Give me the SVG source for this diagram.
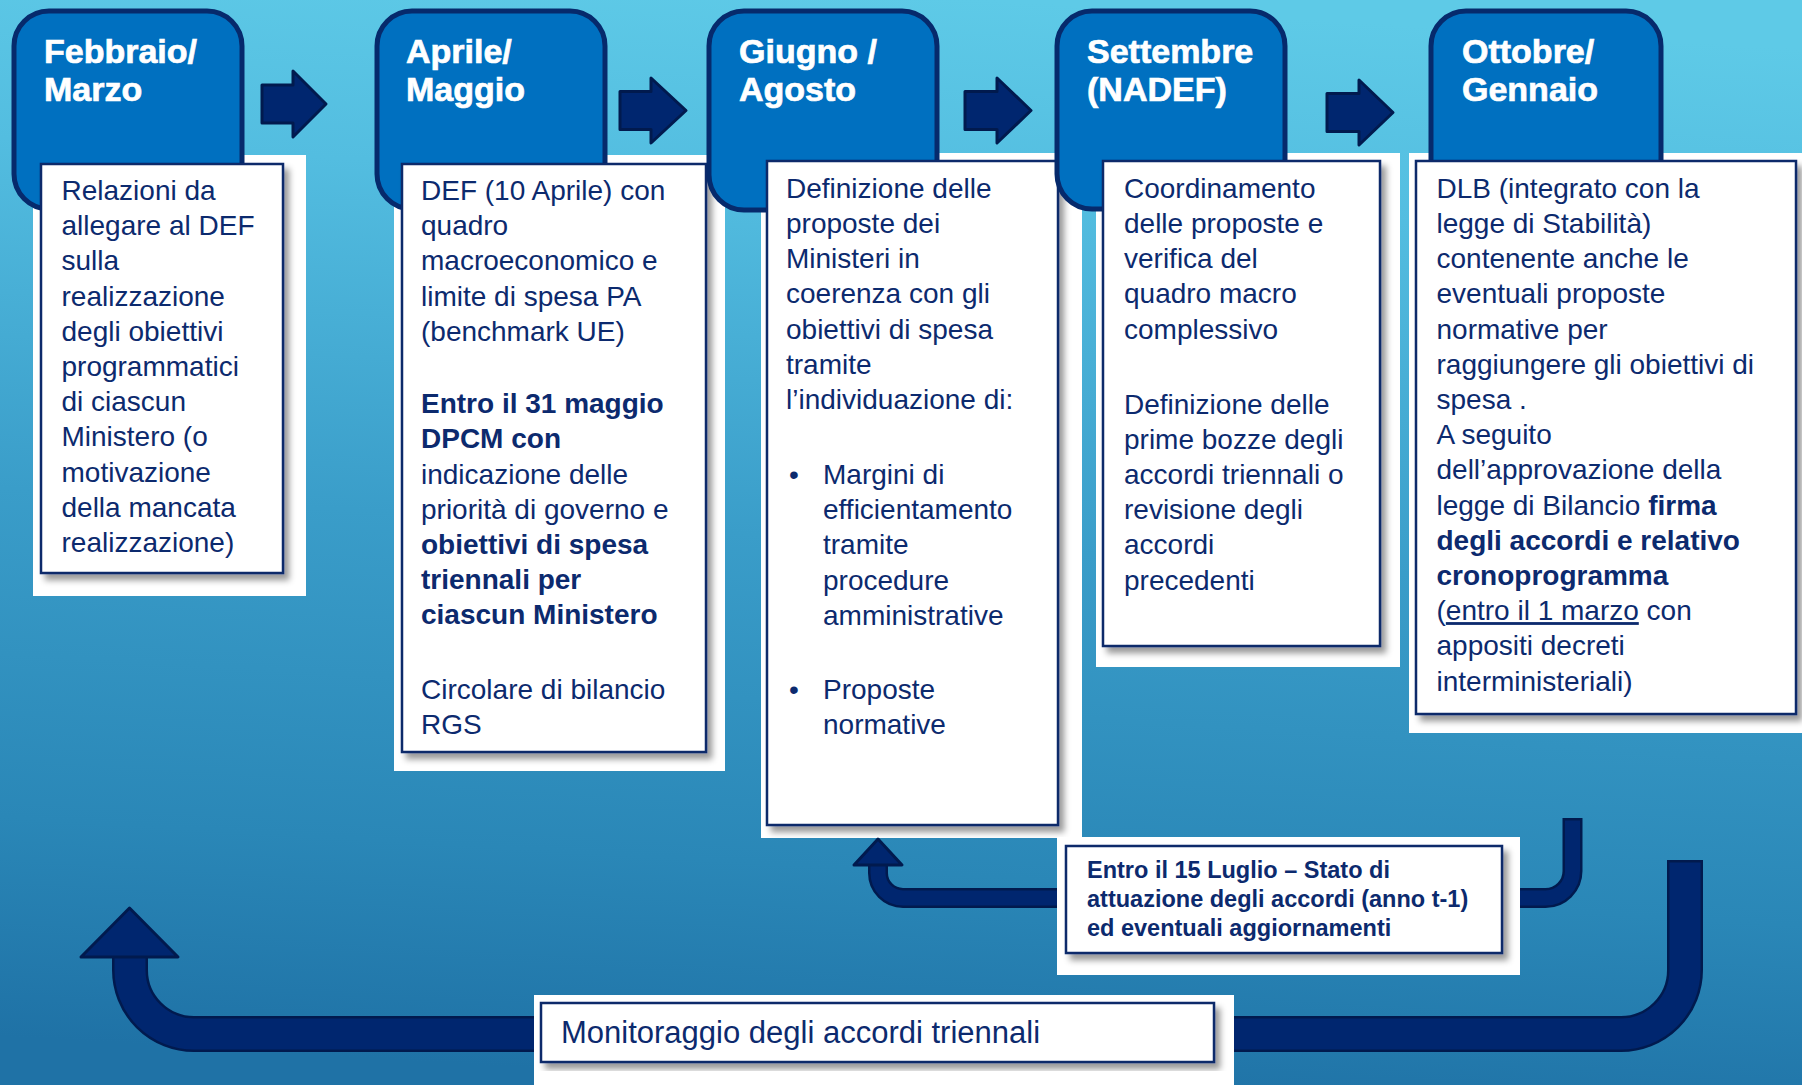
<svg xmlns="http://www.w3.org/2000/svg" width="1802" height="1085" viewBox="0 0 1802 1085">
<defs>
<linearGradient id="bg" x1="0.55" y1="0" x2="0.45" y2="1">
<stop offset="0" stop-color="#5ecae7"/>
<stop offset="0.18" stop-color="#53bde0"/>
<stop offset="0.5" stop-color="#3a9dc9"/>
<stop offset="0.8" stop-color="#2a87b7"/>
<stop offset="1" stop-color="#1f72a6"/>
</linearGradient>
<filter id="sh" x="-5%" y="-5%" width="115%" height="120%">
<feDropShadow dx="5" dy="6" stdDeviation="3" flood-color="#000" flood-opacity="0.4"/>
</filter>
<style>
.tab{fill:#0070c0;stroke:#062a6c;stroke-width:5}
.tabt{font-family:"Liberation Sans",Arial,sans-serif;font-weight:bold;font-size:34px;fill:#ffffff;stroke:#ffffff;stroke-width:0.7}
.bd{fill:#ffffff}
.box{fill:#ffffff;stroke:#0d2a6b;stroke-width:2.5;filter:url(#sh)}
.t{font-family:"Liberation Sans",Arial,sans-serif;font-size:28px;fill:#0c2a6e}
.b{font-weight:bold}
.lt{font-family:"Liberation Sans",Arial,sans-serif;font-size:23.5px;font-weight:bold;fill:#0c2a6e}
.mt{font-family:"Liberation Sans",Arial,sans-serif;font-size:31px;fill:#0c2a6e}
.arr{fill:#00266f;stroke:#011a4e;stroke-width:3;stroke-linejoin:round}
.po{fill:none;stroke:#011a4e;stroke-linecap:square}
.pi{fill:none;stroke:#00266f;stroke-linecap:square}
</style>
</defs>
<rect x="0" y="0" width="1802" height="1085" fill="url(#bg)"/>

<g id="node-febbraio">
<rect class="bd" x="33" y="155" width="273" height="441"/>
<rect class="tab" x="14" y="11" width="228" height="198" rx="35"/>
<text class="tabt" x="44" y="63">Febbraio/</text>
<text class="tabt" x="44" y="101">Marzo</text>
<rect class="box" x="41" y="164" width="242" height="409"/>
<text class="t" x="61.5" y="200">Relazioni da</text>
<text class="t" x="61.5" y="235.2">allegare al DEF</text>
<text class="t" x="61.5" y="270.4">sulla</text>
<text class="t" x="61.5" y="305.6">realizzazione</text>
<text class="t" x="61.5" y="340.8">degli obiettivi</text>
<text class="t" x="61.5" y="376">programmatici</text>
<text class="t" x="61.5" y="411.2">di ciascun</text>
<text class="t" x="61.5" y="446.4">Ministero (o</text>
<text class="t" x="61.5" y="481.6">motivazione</text>
<text class="t" x="61.5" y="516.8">della mancata</text>
<text class="t" x="61.5" y="552">realizzazione)</text>
</g>

<g id="node-aprile">
<rect class="bd" x="394" y="155" width="331" height="616"/>
<rect class="tab" x="377" y="11" width="228" height="198" rx="35"/>
<text class="tabt" x="406" y="63">Aprile/</text>
<text class="tabt" x="406" y="101">Maggio</text>
<rect class="box" x="402" y="164" width="304" height="588"/>
<text class="t" x="421" y="200">DEF (10 Aprile) con</text>
<text class="t" x="421" y="235.2">quadro</text>
<text class="t" x="421" y="270.4">macroeconomico e</text>
<text class="t" x="421" y="305.6">limite di spesa PA</text>
<text class="t" x="421" y="340.8">(benchmark UE)</text>
<text class="t b" x="421" y="413">Entro il 31 maggio</text>
<text class="t b" x="421" y="448">DPCM con</text>
<text class="t" x="421" y="484">indicazione delle</text>
<text class="t" x="421" y="519">priorità di governo e</text>
<text class="t b" x="421" y="554">obiettivi di spesa</text>
<text class="t b" x="421" y="589">triennali per</text>
<text class="t b" x="421" y="624">ciascun Ministero</text>
<text class="t" x="421" y="699">Circolare di bilancio</text>
<text class="t" x="421" y="734">RGS</text>
</g>

<g id="node-giugno">
<rect class="bd" x="761" y="153" width="321" height="685"/>
<rect class="tab" x="709" y="11" width="228" height="199" rx="35"/>
<text class="tabt" x="739" y="63">Giugno /</text>
<text class="tabt" x="739" y="101">Agosto</text>
<rect class="box" x="767" y="161" width="291" height="664"/>
<text class="t" x="786" y="197.7">Definizione delle</text>
<text class="t" x="786" y="232.9">proposte dei</text>
<text class="t" x="786" y="268.1">Ministeri in</text>
<text class="t" x="786" y="303.3">coerenza con gli</text>
<text class="t" x="786" y="338.5">obiettivi di spesa</text>
<text class="t" x="786" y="373.7">tramite</text>
<text class="t" x="786" y="408.9">l’individuazione di:</text>
<text class="t" x="789" y="484">•</text>
<text class="t" x="823" y="484">Margini di</text>
<text class="t" x="823" y="519.2">efficientamento</text>
<text class="t" x="823" y="554.4">tramite</text>
<text class="t" x="823" y="589.6">procedure</text>
<text class="t" x="823" y="624.8">amministrative</text>
<text class="t" x="789" y="699">•</text>
<text class="t" x="823" y="699">Proposte</text>
<text class="t" x="823" y="734.2">normative</text>
</g>

<g id="node-settembre">
<rect class="bd" x="1096" y="153" width="304" height="514"/>
<rect class="tab" x="1057" y="11" width="228" height="198" rx="35"/>
<text class="tabt" x="1087" y="63">Settembre</text>
<text class="tabt" x="1087" y="101">(NADEF)</text>
<rect class="box" x="1103" y="161" width="277" height="485"/>
<text class="t" x="1124" y="197.7">Coordinamento</text>
<text class="t" x="1124" y="232.9">delle proposte e</text>
<text class="t" x="1124" y="268.1">verifica del</text>
<text class="t" x="1124" y="303.3">quadro macro</text>
<text class="t" x="1124" y="338.5">complessivo</text>
<text class="t" x="1124" y="413.5">Definizione delle</text>
<text class="t" x="1124" y="448.7">prime bozze degli</text>
<text class="t" x="1124" y="483.9">accordi triennali o</text>
<text class="t" x="1124" y="519.1">revisione degli</text>
<text class="t" x="1124" y="554.3">accordi</text>
<text class="t" x="1124" y="589.5">precedenti</text>
</g>

<g id="node-ottobre">
<rect class="bd" x="1409" y="153" width="393" height="580"/>
<rect class="tab" x="1431" y="11" width="230" height="198" rx="35"/>
<text class="tabt" x="1462" y="63">Ottobre/</text>
<text class="tabt" x="1462" y="101">Gennaio</text>
<rect class="box" x="1416" y="161" width="380" height="553"/>
<text class="t" x="1436.5" y="197.7">DLB (integrato con la</text>
<text class="t" x="1436.5" y="232.9">legge di Stabilità)</text>
<text class="t" x="1436.5" y="268.1">contenente anche le</text>
<text class="t" x="1436.5" y="303.3">eventuali proposte</text>
<text class="t" x="1436.5" y="338.5">normative per</text>
<text class="t" x="1436.5" y="373.7">raggiungere gli obiettivi di</text>
<text class="t" x="1436.5" y="408.9">spesa .</text>
<text class="t" x="1436.5" y="444.1">A seguito</text>
<text class="t" x="1436.5" y="479.3">dell’approvazione della</text>
<text class="t" x="1436.5" y="514.5">legge di Bilancio <tspan class="b">firma</tspan></text>
<text class="t b" x="1436.5" y="549.7">degli accordi e relativo</text>
<text class="t b" x="1436.5" y="584.9">cronoprogramma</text>
<text class="t" x="1436.5" y="620.1">(<tspan text-decoration="underline">entro il 1 marzo</tspan> con</text>
<text class="t" x="1436.5" y="655.3">appositi decreti</text>
<text class="t" x="1436.5" y="690.5">interministeriali)</text>
</g>

<g id="connectors">
<path class="arr" d="M262 85 H293 V71 L326 104 L293 137 V123 H262 Z"/>
<path class="arr" d="M620 91.5 H651 V78 L686 110.5 L651 143 V129.5 H620 Z"/>
<path class="arr" d="M965 91.5 H997 V78 L1031 110.5 L997 143 V129.5 H965 Z"/>
<path class="arr" d="M1327 93.5 H1359 V80 L1393 112.5 L1359 145 V131.5 H1327 Z"/>
<path class="po" stroke-width="36" d="M1685 878 V970 A64 64 0 0 1 1621 1034 H194 A64 64 0 0 1 130 970 V960"/>
<path class="pi" stroke-width="31" d="M1685 878 V970 A64 64 0 0 1 1621 1034 H194 A64 64 0 0 1 130 970 V960"/>
<path class="arr" d="M129.5 908 L178 957 L81 957 Z"/>
<path class="po" stroke-width="20" d="M1572.5 828 V871 A27 27 0 0 1 1545.5 898 H903 A25 25 0 0 1 878 873 V868"/>
<path class="pi" stroke-width="15" d="M1572.5 828 V871 A27 27 0 0 1 1545.5 898 H903 A25 25 0 0 1 878 873 V868"/>
<path class="arr" d="M878 839 L902 865 L854 865 Z"/>
</g>

<g id="node-luglio">
<rect class="bd" x="1057" y="837" width="463" height="138"/>
<rect class="box" x="1066" y="846" width="436" height="107"/>
<text class="lt" x="1087" y="877.5">Entro il 15 Luglio – Stato di</text>
<text class="lt" x="1087" y="906.5">attuazione degli accordi (anno t-1)</text>
<text class="lt" x="1087" y="935.5">ed eventuali aggiornamenti</text>
</g>

<g id="node-monitoraggio">
<rect class="bd" x="534" y="995" width="700" height="90"/>
<rect class="box" x="541" y="1003" width="673" height="59"/>
<text class="mt" x="561" y="1043">Monitoraggio degli accordi triennali</text>
</g>
</svg>
